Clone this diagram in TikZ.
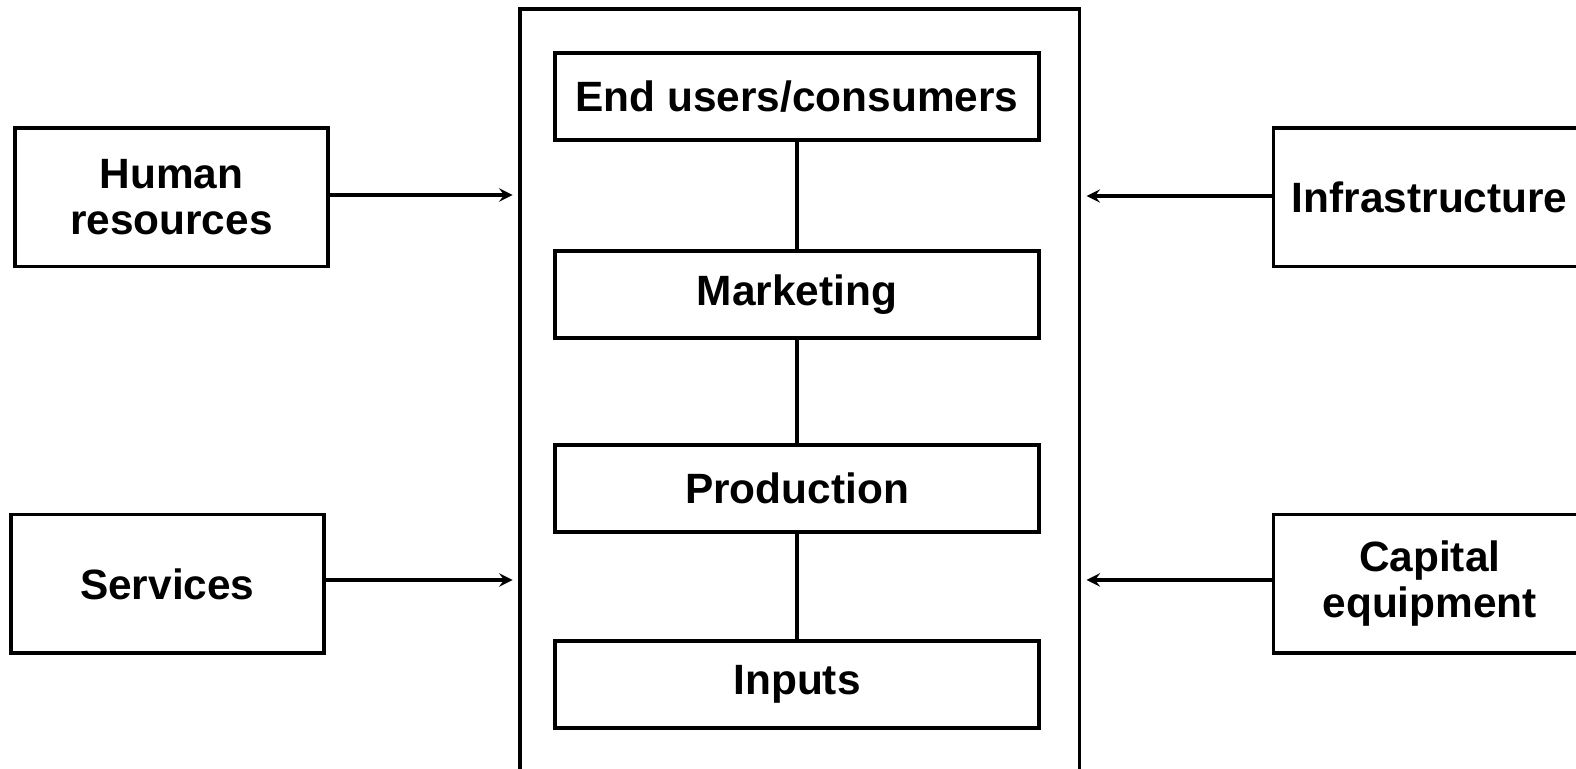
\documentclass[tikz,border=0pt]{standalone}
\usepackage{fontspec}
\setmainfont{Liberation Sans}
\usepackage{tikz}
\usetikzlibrary{arrows}
\usetikzlibrary{shapes}

\tikzset{
    stage/.style = {draw, line width = 2.1pt, minimum width = 9.64cm,
        minimum height = 1.72cm, inner sep = 0pt, font = \bfseries\fontsize{24}{26}\selectfont},
    factor/.style = {draw, line width = 2.1pt, minimum width = 6.22cm,
        minimum height = 2.76cm, inner sep = 0pt, align = center,
        font = \bfseries\fontsize{24}{26}\selectfont},
    feed/.style = {-stealth, line width = 2.3pt},
}

\begin{document}
\begin{tikzpicture}
        \useasboundingbox (0, 0) rectangle (31.36, -15.30);
        \clip (0, 0) rectangle (31.36, -15.30);

        % the chain itself
        \draw[line width = 2.1pt] (10.34, -16) -- (10.34, -0.18) -- (21.48, -0.18) -- (21.48, -16);

        \node[stage] (users) at (15.86, -1.92) {End users/consumers};
        \node[stage] (marketing) at (15.86, -5.86) {Marketing};
        \node[stage] (production) at (15.86, -9.72) {Production};
        \node[stage] (inputs) at (15.86, -13.62) {Inputs};

        \draw[line width = 2.6pt] (users) -- (marketing);
        \draw[line width = 2.6pt] (marketing) -- (production);
        \draw[line width = 2.6pt] (production) -- (inputs);

        % supporting factors
        \node[factor] (human) at (3.41, -3.92) {Human\\resources};
        \node[factor] (services) at (3.33, -11.62) {Services};
        \node[factor] (infra) at (28.45, -3.92) {Infrastructure};
        \node[factor] (capital) at (28.45, -11.62) {Capital\\equipment};

        \coordinate (humanin) at (10.2, -3.88);
        \coordinate (servin) at (10.2, -11.54);
        \coordinate (infrain) at (21.62, -3.9);
        \coordinate (capin) at (21.62, -11.54);

        \draw[feed] (human.east |- humanin) -- (humanin);
        \draw[feed] (services.east |- servin) -- (servin);
        \draw[feed] (infra.west |- infrain) -- (infrain);
        \draw[feed] (capital.west |- capin) -- (capin);
    \end{tikzpicture}
\end{document}
